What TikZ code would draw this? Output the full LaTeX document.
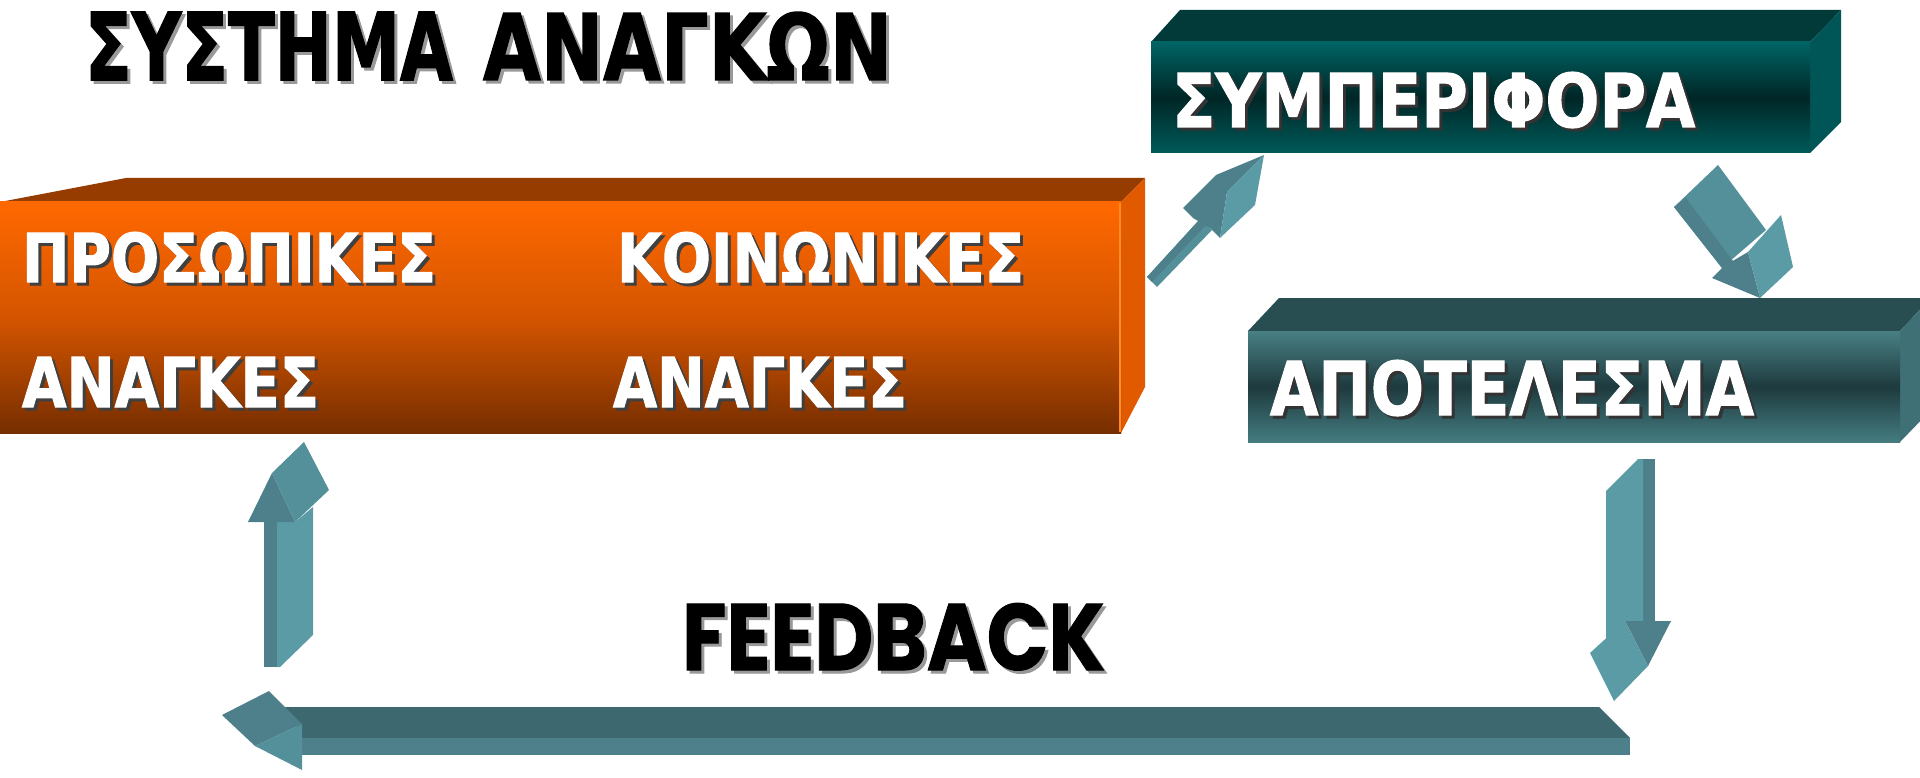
\documentclass[tikz,border=0pt]{standalone}
\usepackage{fontspec}
\usepackage{graphicx}
\newfontfamily\grfont{DejaVu Sans}[BoldFeatures={FakeBold=1.6}]
\newfontfamily\latfont{Poppins}[BoldFeatures={FakeBold=1.0}]

% box colours
\definecolor{orTop}{RGB}{150,60,0}
\definecolor{orFrontA}{RGB}{255,104,0}
\definecolor{orFrontB}{RGB}{212,85,0}
\definecolor{orFrontC}{RGB}{118,46,0}
\definecolor{orSide}{RGB}{226,90,0}
\definecolor{orEdge}{RGB}{255,140,40}
\definecolor{tlTop}{RGB}{2,58,58}
\definecolor{tlFrontA}{RGB}{0,100,100}
\definecolor{tlFrontB}{RGB}{0,38,38}
\definecolor{tlFrontC}{RGB}{0,90,90}
\definecolor{tlSide}{RGB}{0,86,86}
\definecolor{slTop}{RGB}{40,78,82}
\definecolor{slFrontA}{RGB}{72,128,132}
\definecolor{slFrontB}{RGB}{30,58,62}
\definecolor{slFrontC}{RGB}{68,124,128}
\definecolor{slSide}{RGB}{62,112,118}
% arrow colours
\definecolor{arLight}{RGB}{90,155,165}
\definecolor{arMid}{RGB}{84,144,154}
\definecolor{arDark}{RGB}{77,128,138}
\definecolor{arDeep}{RGB}{62,104,112}

% a word set to an exact size, with a drop shadow behind it
\newcommand\shadowword[8]{%
  \node[wordbox,text=#7] (#1s) at ({#2+3},{#3+3}) {\resizebox{#4pt}{#5pt}{#8}};
  \node[wordbox,text=#6] (#1) at (#2,#3) {\resizebox{#4pt}{#5pt}{#8}};
}

\begin{document}
\begin{tikzpicture}[x=1pt,y=-1pt,
  wordbox/.style={anchor=north west,inner sep=0pt,outer sep=0pt},
  arlight/.style={fill=arLight,draw=none},
  armid/.style={fill=arMid,draw=none},
  ardark/.style={fill=arDark,draw=none},
  ardeep/.style={fill=arDeep,draw=none}]
\useasboundingbox (0,0) rectangle (1920,778);
\clip (0,0) rectangle (1920,778);
\fill[white] (0,0) rectangle (1920,778);

% ---------- needs block (orange) ----------
\fill[orTop] (0,202) -- (126,178) -- (1145,178) -- (1121,202) -- cycle;
\fill[orSide] (1121,202) -- (1145,178) -- (1145,387) -- (1121,433) -- cycle;
\shade[top color=orFrontA,bottom color=orFrontC,middle color=orFrontB]
  (0,202) rectangle (1121,433);
\draw[orEdge,line width=1.5pt] (1120,203) -- (1120,432);

% ---------- behaviour block (dark teal) ----------
\fill[tlTop] (1151,42) -- (1180,10) -- (1841,10) -- (1810,42) -- cycle;
\fill[tlSide] (1810,42) -- (1841,10) -- (1841,122) -- (1810,153) -- cycle;
\shade[top color=tlFrontA,bottom color=tlFrontC,middle color=tlFrontB]
  (1151,42) rectangle (1810,153);

% ---------- result block (slate teal) ----------
\fill[slTop] (1248,331) -- (1279,298) -- (1931,298) -- (1900,331) -- cycle;
\fill[slSide] (1900,331) -- (1931,298) -- (1931,410) -- (1900,442) -- cycle;
\shade[top color=slFrontA,bottom color=slFrontC,middle color=slFrontB]
  (1248,331) rectangle (1900,442);

% ---------- arrow: needs -> behaviour ----------
\fill[armid] (1147,277) -- (1157,287) -- (1212,230) -- (1200,219) -- cycle;
\fill[ardark] (1147,277) -- (1152,282) -- (1206,225) -- (1200,219) -- cycle;
\fill[ardark] (1183,208) -- (1216,175) -- (1264,155) -- (1227,192) -- (1220,238) -- (1210,228) -- (1193,218) -- cycle;
\fill[arlight] (1264,155) -- (1255,205) -- (1220,238) -- (1227,192) -- cycle;

% ---------- arrow: behaviour -> result ----------
\fill[armid] (1674,207) -- (1718,165) -- (1766,230) -- (1722,268) -- cycle;
\fill[ardark] (1674,207) -- (1686,198) -- (1733,261) -- (1722,268) -- cycle;
\fill[ardark] (1712,278) -- (1724,266) -- (1748,252) -- (1760,298) -- cycle;
\fill[arlight] (1748,252) -- (1781,215) -- (1793,267) -- (1760,298) -- cycle;

% ---------- arrow: result -> down ----------
\fill[ardark] (1643,459) rectangle (1655,622);
\fill[arlight] (1606,491) -- (1638,459) -- (1643,459) -- (1643,621) -- (1625,621) -- (1606,640) -- cycle;
\fill[ardark] (1625,621) -- (1671,621) -- (1648,666) -- cycle;
\fill[arlight] (1590,653) -- (1625,621) -- (1648,666) -- (1614,701) -- cycle;

% ---------- arrow: feedback, pointing left ----------
\fill[ardeep] (285,707) -- (1599,707) -- (1630,738) -- (302,738) -- cycle;
\fill[ardark] (302,738) rectangle (1630,755);
\fill[ardark] (222,715) -- (269,691) -- (302,724) -- (255,746) -- cycle;
\fill[armid] (255,746) -- (302,724) -- (302,770) -- cycle;

% ---------- arrow: feedback -> needs ----------
\fill[ardark] (264,522) rectangle (277,667);
\fill[arlight] (277,522) -- (295,522) -- (313,507) -- (313,635) -- (280,667) -- (277,667) -- cycle;
\fill[ardark] (248,522) -- (272,473) -- (295,522) -- cycle;
\fill[armid] (272,473) -- (304,442) -- (329,490) -- (295,522) -- cycle;

% ---------- words ----------
\shadowword{tA}{85}{12}{368}{68}{black}{black!40}{\grfont\bfseries ΣΥΣΤΗΜΑ}
\shadowword{tB}{483}{12}{409}{68}{black}{black!40}{\grfont\bfseries ΑΝΑΓΚΩΝ}

\shadowword{pA}{22}{232}{414}{50}{white}{black!75}{\grfont\bfseries ΠΡΟΣΩΠΙΚΕΣ}
\shadowword{pB}{22}{357}{297}{50}{white}{black!75}{\grfont\bfseries ΑΝΑΓΚΕΣ}
\shadowword{kA}{617}{232}{407}{50}{white}{black!75}{\grfont\bfseries ΚΟΙΝΩΝΙΚΕΣ}
\shadowword{kB}{613}{357}{294}{50}{white}{black!75}{\grfont\bfseries ΑΝΑΓΚΕΣ}

\shadowword{bh}{1172}{72}{523}{55}{white}{black!80}{\grfont\bfseries ΣΥΜΠΕΡΙΦΟΡΑ}
\shadowword{rs}{1270}{360}{484}{55}{white}{black!80}{\grfont\bfseries ΑΠΟΤΕΛΕΣΜΑ}

\shadowword{fb}{682}{603}{423}{67}{black}{black!40}{\latfont\bfseries FEEDBACK}
\end{tikzpicture}
\end{document}
